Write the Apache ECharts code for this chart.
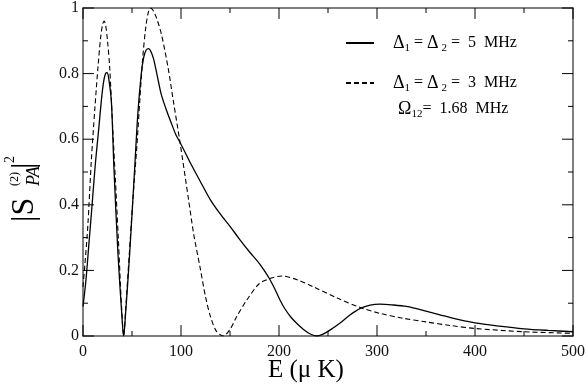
<!DOCTYPE html>
<html>
<head>
<meta charset="utf-8">
<script src="https://cdn.jsdelivr.net/npm/echarts@6/dist/echarts.min.js"></script>
<style>
  html, body { margin: 0; padding: 0; background: #fff; }
  #chart { width: 588px; height: 385px; }
</style>
</head>
<body>
<div id="chart"></div>
<script>
// energy (uK) and |S|^2
var e5 = [0, 3, 6, 9, 12.6, 16, 18.7, 21, 23, 24.5, 26, 28.9, 31.6, 35.7, 39.5, 41.5, 43.5, 47.6, 52.7, 56, 59.5, 62, 64.5, 67, 69.5, 72, 76, 80, 85, 90, 95, 99, 105, 110, 119, 130, 140, 150, 160, 170, 178, 184, 190, 196, 201, 206, 212, 218, 225, 232, 238.5, 245, 252, 262, 272, 283, 293, 303, 315, 330, 352, 375, 400, 425, 450, 475, 500];
var s5 = [0.09, 0.17, 0.28, 0.39, 0.525, 0.63, 0.717, 0.775, 0.8, 0.803, 0.79, 0.717, 0.51, 0.25, 0.07, 0, 0.07, 0.25, 0.51, 0.68, 0.8, 0.85, 0.872, 0.876, 0.866, 0.845, 0.79, 0.735, 0.69, 0.65, 0.612, 0.59, 0.555, 0.525, 0.475, 0.415, 0.372, 0.334, 0.294, 0.256, 0.228, 0.204, 0.176, 0.142, 0.11, 0.083, 0.058, 0.039, 0.02, 0.006, 0, 0.006, 0.018, 0.039, 0.063, 0.084, 0.094, 0.097, 0.095, 0.09, 0.074, 0.056, 0.04, 0.03, 0.022, 0.017, 0.013];

var e3 = [0, 2, 5, 8.5, 12, 15.3, 18, 20, 21.5, 23, 25, 27.2, 30.6, 33, 36, 39.5, 41.5, 43.5, 47, 51, 55, 58, 61, 64, 66.5, 68.5, 70, 72, 75, 80, 86.7, 92, 99, 107.5, 113, 119.4, 125, 130, 136, 143.2, 150, 157, 167, 180, 190.8, 202.7, 220, 235, 260, 282.7, 303, 325, 350, 375, 400, 450, 500];
var s3 = [0.15, 0.22, 0.34, 0.535, 0.69, 0.82, 0.91, 0.95, 0.96, 0.95, 0.9, 0.82, 0.617, 0.48, 0.3, 0.08, 0, 0.08, 0.24, 0.42, 0.58, 0.72, 0.85, 0.94, 0.985, 1.0, 0.998, 0.99, 0.97, 0.92, 0.82, 0.72, 0.59, 0.42, 0.31, 0.21, 0.12, 0.06, 0.015, 0, 0.02, 0.06, 0.109, 0.16, 0.175, 0.183, 0.17, 0.15, 0.115, 0.087, 0.069, 0.055, 0.043, 0.032, 0.023, 0.013, 0.008];

var xTicks = [0, 100, 200, 300, 400, 500];
var yTicks = [0, 0.2, 0.4, 0.6, 0.8, 1];

function pairs(xs, ys) {
    var out = [];
    for (var i = 0; i < xs.length; i++) out.push([xs[i], ys[i]]);
    return out;
}

var serif = 'Liberation Serif';
var plotW = 588 - 83 - 14, plotH = 385 - 7 - 49;
var xMin = xTicks[0], xMax = xTicks[xTicks.length - 1];
var yMin = yTicks[0], yMax = yTicks[yTicks.length - 1];

// inward tick marks on all four sides, as short broken line segments
var tickSegs = [];
function xTick(v, px) {
    var l = px * (yMax - yMin) / plotH;
    tickSegs.push([v, yMin], [v, yMin + l], null, [v, yMax], [v, yMax - l], null);
}
function yTick(v, px) {
    var l = px * (xMax - xMin) / plotW;
    tickSegs.push([xMin, v], [xMin + l, v], null, [xMax, v], [xMax - l, v], null);
}
for (var i = 0; i < xTicks.length; i++) {
    xTick(xTicks[i], 11);
    if (i < xTicks.length - 1) xTick((xTicks[i] + xTicks[i + 1]) / 2, 5);
}
for (var j = 0; j < yTicks.length; j++) {
    yTick(yTicks[j], 11);
    if (j < yTicks.length - 1) yTick((yTicks[j] + yTicks[j + 1]) / 2, 5);
}

function axisCfg(pos, labels, lo, hi, step, margin) {
    return {
        type: 'value', position: pos, min: lo, max: hi, interval: step,
        axisLine: { show: true, onZero: false, lineStyle: { color: '#555', width: 1.5 } },
        axisTick: { show: false },
        axisLabel: { show: labels, margin: margin, fontFamily: serif, fontSize: 16, color: '#111' },
        splitLine: { show: false }
    };
}

var rich = {
    d: { fontFamily: serif, fontSize: 18, color: '#000', lineHeight: 22 },
    t: { fontFamily: serif, fontSize: 16, color: '#000', lineHeight: 22 },
    s: { fontFamily: serif, fontSize: 11, color: '#000', lineHeight: 22, verticalAlign: 'bottom', padding: [10, 0, 0, 0] }
};

var chart = echarts.init(document.getElementById('chart'));
var option = {
    animation: false,
    grid: { left: 83, right: 14, top: 7, bottom: 49 },
    xAxis: [
        axisCfg('bottom', true, xMin, xMax, 100, 8),
        axisCfg('top', false, xMin, xMax, 100, 8)
    ],
    yAxis: [
        axisCfg('left', true, yMin, yMax, 0.2, 4),
        axisCfg('right', false, yMin, yMax, 0.2, 4)
    ],
    legend: {
        orient: 'vertical', left: 340, top: 28, itemWidth: 28, itemHeight: 14, itemGap: 19,
        data: ['5', '3'],
        itemStyle: { opacity: 0 },
        formatter: function (n) {
            return '{d|\u0394}{s|1}{t| = }{d|\u0394}{s| 2}{t| =  ' + n + '  MHz}';
        },
        textStyle: { padding: [0, 0, 0, 14], rich: rich }
    },
    graphic: [
        {
            type: 'text', left: 398, top: 99,
            style: {
                text: '{d|\u03A9}{s|12}{t|=  1.68  MHz}',
                rich: {
                    d: { fontFamily: serif, fontSize: 18, fill: '#000', lineHeight: 22 },
                    t: { fontFamily: serif, fontSize: 16, fill: '#000', lineHeight: 22 },
                    s: { fontFamily: serif, fontSize: 11, fill: '#000', lineHeight: 22, verticalAlign: 'bottom', padding: [10, 0, 0, 0] }
                }
            }
        },
        {
            type: 'text', left: 268, top: 358,
            style: { text: 'E (\u03BC K)', fontFamily: serif, fontSize: 25, fill: '#000' }
        },
        {
            type: 'group', x: 41, y: 222, rotation: Math.PI / 2,
            children: [
                { type: 'text', x: 0, y: 0, style: { text: '|S', fontFamily: serif, fontSize: 32, fill: '#000', verticalAlign: 'bottom' } },
                { type: 'text', x: 36, y: -32, style: { text: '(2)', fontFamily: serif, fontSize: 12, fill: '#000', verticalAlign: 'top' } },
                { type: 'text', x: 36, y: 2, style: { text: 'PA', fontFamily: serif, fontStyle: 'italic', fontSize: 18, fill: '#000', verticalAlign: 'bottom' } },
                { type: 'text', x: 53, y: 0, style: { text: '|', fontFamily: serif, fontSize: 32, fill: '#000', verticalAlign: 'bottom' } },
                { type: 'text', x: 59, y: -38, style: { text: '2', fontFamily: serif, fontSize: 14, fill: '#000', verticalAlign: 'top' } }
            ]
        }
    ],
    series: [
        {
            name: '5', type: 'line', data: pairs(e5, s5), smooth: 0.3, symbol: 'none',
            lineStyle: { color: '#000', width: 1.3, type: 'solid' }, itemStyle: { color: '#000' }
        },
        {
            name: '3', type: 'line', data: pairs(e3, s3), smooth: 0.3, symbol: 'none',
            lineStyle: { color: '#000', width: 1.1, type: [5, 3] }, itemStyle: { color: '#000' }
        },
        {
            name: 'ticks', type: 'line', data: tickSegs, symbol: 'none', connectNulls: false,
            silent: true, clip: false, z: 5,
            lineStyle: { color: '#000', width: 1 }, itemStyle: { color: '#000' }
        }
    ]
};
chart.setOption(option);
</script>
</body>
</html>
